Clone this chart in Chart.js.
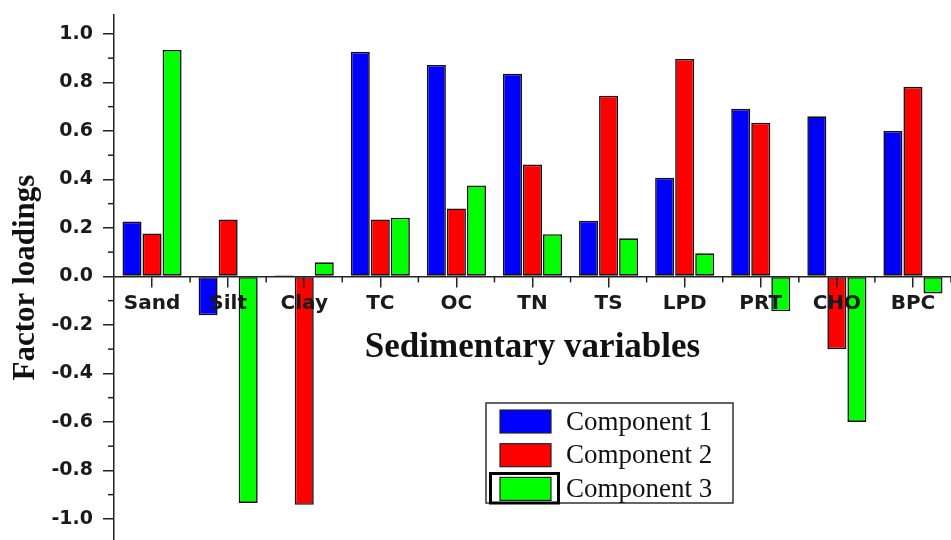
<!DOCTYPE html>
<html><head><meta charset="utf-8">
<script src="https://cdn.jsdelivr.net/npm/chart.js@4.4.0/dist/chart.umd.min.js"></script>
<style>html,body{margin:0;padding:0;background:#fff}#wrap{width:951px;height:540px;position:relative}</style>
</head><body><div id="wrap"><canvas id="c"></canvas></div>
<script>
const categories = ['Sand','Silt','Clay','TC','OC','TN','TS','LPD','PRT','CHO','BPC'];
const component1 = [0.226,-0.16,0.005,0.926,0.872,0.836,0.23,0.407,0.691,0.66,0.6];
const component2 = [0.177,0.235,-0.942,0.235,0.28,0.461,0.745,0.897,0.634,-0.3,0.782];
const component3 = [0.934,-0.934,0.058,0.242,0.375,0.174,0.157,0.095,-0.144,-0.6,-0.07];
const seriesNames = ['Component 1','Component 2','Component 3'];
const seriesColors = ['#0000ff','#ff0000','#00ff00'];
const yTickValues = [-1.0,-0.8,-0.6,-0.4,-0.2,0.0,0.2,0.4,0.6,0.8,1.0];
const yMinorValues = [-0.9,-0.7,-0.5,-0.3,-0.1,0.1,0.3,0.5,0.7,0.9];

const minorTicks = {
  id: 'minorTicks',
  afterDraw(chart) {
    const {ctx, scales: {x, y}, chartArea} = chart;
    ctx.save();
    ctx.strokeStyle = '#222';
    ctx.lineWidth = 1.5;
    yMinorValues.forEach(v => {
      const p = y.getPixelForValue(v);
      ctx.beginPath(); ctx.moveTo(chartArea.left, p); ctx.lineTo(chartArea.left - 6, p); ctx.stroke();
    });
    const zero = y.getPixelForValue(0);
    for (let i = 1; i <= categories.length; i++) {
      const p = x.getPixelForValue(i - 0.5);
      ctx.beginPath(); ctx.moveTo(p, zero); ctx.lineTo(p, zero + 6); ctx.stroke();
    }
    ctx.restore();
  }
};

const boxLegend = {
  id: 'boxLegend',
  afterDraw(chart) {
    const ctx = chart.ctx;
    ctx.save();
    ctx.fillStyle = '#fff';
    ctx.fillRect(486, 403, 247, 100);
    ctx.strokeStyle = '#333'; ctx.lineWidth = 1.5;
    ctx.strokeRect(486, 403, 247, 100);
    chart.data.datasets.forEach((ds, i) => {
      const cy = 421.5 + i * 33.7;
      ctx.fillStyle = ds.backgroundColor;
      ctx.fillRect(500, cy - 11.5, 51, 23);
      ctx.strokeStyle = '#222'; ctx.lineWidth = 1.2;
      ctx.strokeRect(500, cy - 11.5, 51, 23);
      ctx.fillStyle = '#111';
      ctx.font = '27px "Liberation Serif"';
      ctx.textBaseline = 'middle';
      ctx.fillText(ds.label, 566, cy + 1);
    });
    ctx.lineWidth = 3; ctx.strokeStyle = '#000';
    ctx.strokeRect(490.5, 473.5, 68, 29.5);
    ctx.restore();
  }
};

new Chart(document.getElementById('c'), {
  type: 'bar',
  data: {
    labels: categories,
    datasets: [component1, component2, component3].map((d, i) => ({
      label: seriesNames[i], data: d,
      backgroundColor: seriesColors[i], borderColor: '#111', borderWidth: 1.6, borderSkipped: false,
      categoryPercentage: 0.79, barPercentage: 0.95
    }))
  },
  options: {
    responsive: true, maintainAspectRatio: false, animation: false, events: [],
    layout: {padding: {left: 0, top: 15, right: -5, bottom: 0}},
    plugins: {legend: {display: false}, tooltip: {enabled: false}},
    scales: {
      x: {
        position: {y: 0},
        afterFit: s => { s.paddingLeft = 0; s.paddingRight = 0; },
        ticks: {z: 2, font: {family: 'DejaVu Sans', weight: 'bold', size: 20}, color: '#1a1a1a', padding: 5, maxRotation: 0, autoSkip: false},
        grid: {z: 1, drawOnChartArea: false, offset: false, tickLength: 10, color: '#222', lineWidth: 1.5},
        border: {z: 1, color: '#222', width: 1.5},
        title: {display: true, text: 'Sedimentary variables', color: '#111',
          font: {family: 'Liberation Serif', weight: 'bold', size: 35, lineHeight: 1.2}, padding: {top: 7, bottom: 0}}
      },
      y: {
        min: -1.087, max: 1.078,
        afterBuildTicks: s => { s.ticks = yTickValues.map(v => ({value: v})); },
        afterFit: s => { s.width = 114; s.paddingTop = 0; s.paddingBottom = 0; },
        ticks: {font: {family: 'DejaVu Sans', weight: 'bold', size: 19}, color: '#1a1a1a', padding: 10,
          callback: v => v.toFixed(1)},
        grid: {drawOnChartArea: false, tickLength: 11, color: '#222', lineWidth: 1.5},
        border: {z: 1, color: '#222', width: 1.5},
        title: {display: true, text: 'Factor loadings', color: '#111',
          font: {family: 'Liberation Serif', weight: 'bold', size: 31, lineHeight: 1.2}, padding: {top: 7, bottom: 0}}
      }
    }
  },
  plugins: [minorTicks, boxLegend]
});
</script></body></html>
